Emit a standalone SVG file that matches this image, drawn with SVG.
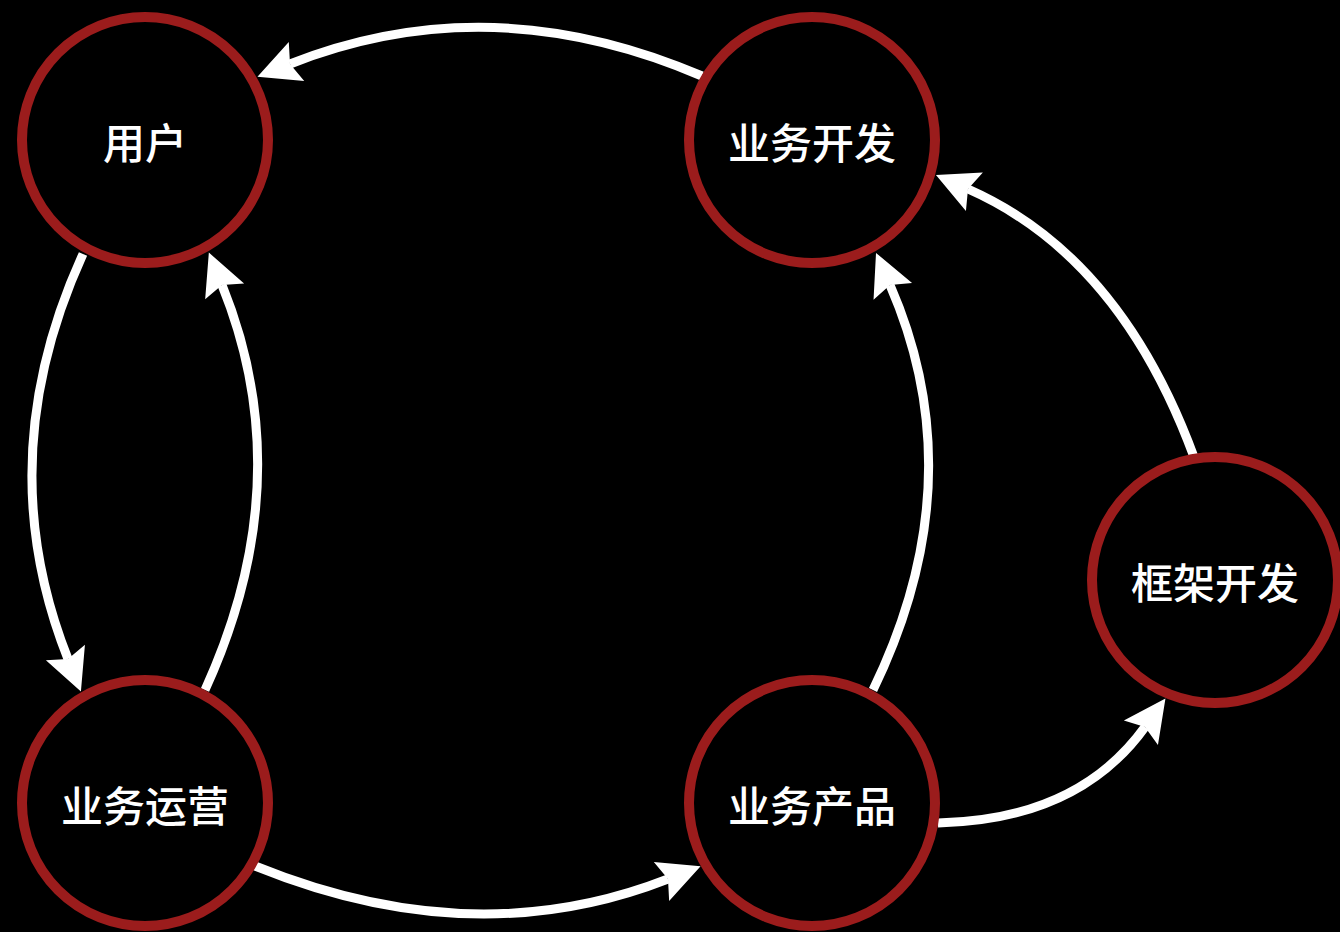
<svg xmlns="http://www.w3.org/2000/svg" width="1340" height="932" viewBox="0 0 1340 932">
<style>
.node circle{fill:#000;stroke:#9b1c1c;stroke-width:10}
.node text{fill:#fff;font-family:"Noto Sans CJK SC","Noto Sans",sans-serif;font-weight:500;font-size:42px;text-anchor:middle;dominant-baseline:central}
.edge{fill:none;stroke:#fff;stroke-width:9}
</style>
<defs>
<marker id="arr" markerUnits="userSpaceOnUse" markerWidth="60" markerHeight="60" viewBox="0 -30 60 60" refX="7" refY="0" orient="auto" overflow="visible">
<path d="M0,-21 L42,0 L0,21 L7,0 Z" fill="#fff"/>
</marker>
</defs>
<rect width="1340" height="932" fill="#000"/>
<g id="connectors">
<path class="edge" marker-end="url(#arr)" d="M702,76 Q490,-15 290,64"/>
<path class="edge" marker-end="url(#arr)" d="M83,254 Q-11,460 68,659"/>
<path class="edge" marker-end="url(#arr)" d="M205,690 Q301,480 222,285"/>
<path class="edge" marker-end="url(#arr)" d="M255,866 Q474,955 668,879"/>
<path class="edge" marker-end="url(#arr)" d="M873,690 Q975,480 890,285"/>
<path class="edge" marker-end="url(#arr)" d="M1194,457 Q1120,256 968,189"/>
<path class="edge" marker-end="url(#arr)" d="M938,823 Q1078,820 1145,727"/>
</g>
<g id="n-user" class="node"><circle cx="145" cy="140" r="123"/><text x="145" y="140">用户</text></g>
<g id="n-bizdev" class="node"><circle cx="812" cy="140" r="123"/><text x="812" y="140">业务开发</text></g>
<g id="n-bizops" class="node"><circle cx="145" cy="803" r="123"/><text x="145" y="803">业务运营</text></g>
<g id="n-bizprod" class="node"><circle cx="812" cy="803" r="123"/><text x="812" y="803">业务产品</text></g>
<g id="n-framework" class="node"><circle cx="1215" cy="580" r="123"/><text x="1215" y="580">框架开发</text></g>
</svg>
